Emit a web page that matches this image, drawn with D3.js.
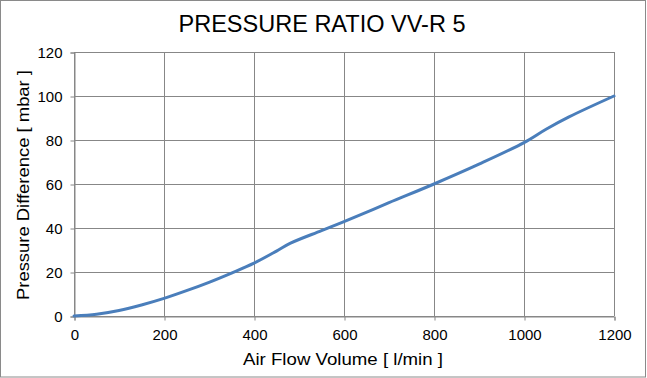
<!DOCTYPE html>
<html>
<head>
<meta charset="utf-8">
<script src="https://cdn.jsdelivr.net/npm/d3@7"></script>
<style>
html,body{margin:0;padding:0;background:#fff;}
svg{display:block;font-family:"Liberation Sans",Arial,sans-serif;}
</style>
</head>
<body>
<svg id="chart" width="647" height="378"></svg>
<script>
const title = "PRESSURE RATIO VV-R 5";
const xLabel = "Air Flow Volume [ l/min ]";
const yLabel = "Pressure Difference [ mbar ]";
const xTicks = [0, 200, 400, 600, 800, 1000, 1200];
const yTicks = [0, 20, 40, 60, 80, 100, 120];
const flow = [0, 50, 100, 150, 200, 250, 300, 350, 400, 450, 480, 550, 600, 700, 800, 900, 1000, 1050, 1100, 1200];
const pressure = [0, 0.8, 2.5, 5, 8, 11.5, 15.3, 19.5, 24, 29.5, 33, 38.8, 42.9, 51.5, 60, 69, 78.8, 85, 90.5, 100];

const svg = d3.select("#chart");
const W = 647, H = 378;
const m = {left: 74, right: 614, top: 52, bottom: 316};

svg.append("rect").attr("x", 0.5).attr("y", 0.5).attr("width", W - 2).attr("height", H - 1.5)
  .attr("fill", "#fff").attr("stroke", "#8a8a8a").attr("stroke-width", 1);

const x = d3.scaleLinear().domain([0, 1200]).range([m.left, m.right]);
const y = d3.scaleLinear().domain([0, 120]).range([m.bottom, m.top]);
const gridColor = "#878787";

// gridlines
svg.append("g").selectAll("line").data(yTicks).join("line")
  .attr("x1", m.left).attr("x2", m.right)
  .attr("y1", d => Math.round(y(d)) + 0.5).attr("y2", d => Math.round(y(d)) + 0.5)
  .attr("stroke", gridColor).attr("stroke-width", 1);
svg.append("g").selectAll("line").data(xTicks).join("line")
  .attr("y1", m.top).attr("y2", m.bottom)
  .attr("x1", d => Math.round(x(d)) + 0.5).attr("x2", d => Math.round(x(d)) + 0.5)
  .attr("stroke", gridColor).attr("stroke-width", 1);

// axes
const xAxis = svg.append("g").attr("transform", `translate(0.5,${Math.round(m.bottom) + 0.5})`)
  .call(d3.axisBottom(x).tickValues(xTicks).tickSize(4).tickPadding(6).tickFormat(d3.format("d")));
const yAxis = svg.append("g").attr("transform", `translate(${m.left + 0.5},0.5)`)
  .call(d3.axisLeft(y).tickValues(yTicks).tickSize(4).tickPadding(8).tickFormat(d3.format("d")));
[xAxis, yAxis].forEach(g => {
  g.select(".domain").attr("stroke", gridColor);
  g.selectAll(".tick line").attr("stroke", gridColor);
  g.selectAll(".tick text").attr("fill", "#000").attr("font-size", 15)
    .attr("font-family", "'Liberation Sans', Arial, sans-serif");
});
xAxis.selectAll(".tick text").attr("dy", "0").attr("y", 23);
yAxis.selectAll(".tick text").attr("dy", "0.36em");

// line
const line = d3.line().x((d, i) => x(flow[i])).y(d => y(d)).curve(d3.curveCatmullRom.alpha(0.5));
svg.append("path").datum(pressure).attr("d", line)
  .attr("fill", "none").attr("stroke", "#4a7ebb").attr("stroke-width", 3)
  .attr("stroke-linecap", "round").attr("stroke-linejoin", "round");

// title
svg.append("text").attr("x", 322).attr("y", 32).attr("text-anchor", "middle")
  .attr("font-size", 23).attr("fill", "#000")
  .attr("textLength", 287).attr("lengthAdjust", "spacingAndGlyphs").text(title);

// axis labels
svg.append("text").attr("x", 343).attr("y", 365).attr("text-anchor", "middle")
  .attr("font-size", 17).attr("fill", "#000")
  .attr("textLength", 200).attr("lengthAdjust", "spacingAndGlyphs").text(xLabel);
svg.append("text").attr("transform", "translate(29,185) rotate(-90)").attr("text-anchor", "middle")
  .attr("font-size", 17).attr("fill", "#000")
  .attr("textLength", 230).attr("lengthAdjust", "spacingAndGlyphs").text(yLabel);
</script>
</body>
</html>
